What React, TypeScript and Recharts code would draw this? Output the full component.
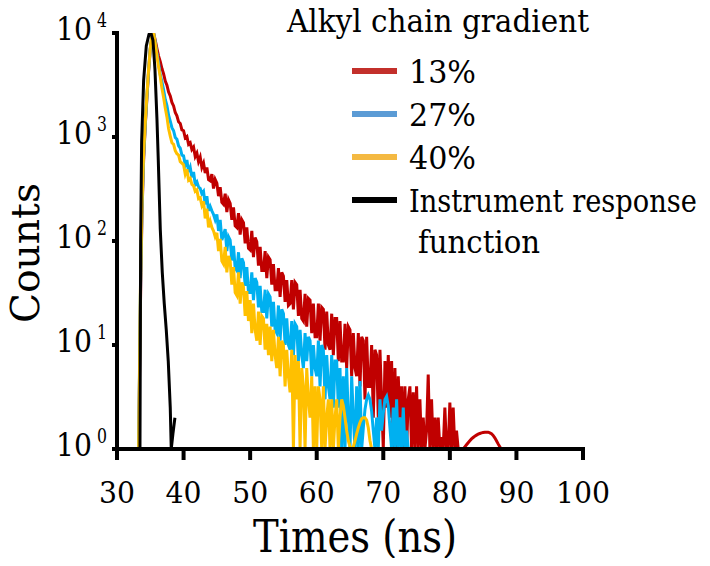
import React from 'react';
import { LineChart, Line, XAxis, YAxis, Legend } from 'recharts';

const txt = { fontFamily: 'DejaVu Serif, serif' };
const fit = { lengthAdjust: 'spacingAndGlyphs' as const };

// histogram bins of the decay traces (ns)
const BIN_START = 33.25;
const BIN_WIDTH = 0.25;

// 13% alkyl chain gradient
const counts13 = [
  1, 20, 180,
  600, 1300, 2400, 4300, // 34
  7000, 9200, 10000, 8500, // 35
  7100, 6000, 5300, 4550, // 36
  4050, 3450, 3150, 2700, // 37
  2480, 2150, 1990, 1720, // 38
  1600, 1400, 1350, 1170, // 39
  1150, 980, 1010, 850, // 40
  880, 760, 800, 650, // 41
  700, 580, 640, 510, // 42
  560, 450, 510, 390, // 43
  380, 440, 320, 390, // 44
  360, 270, 330, 235, // 45
  225, 285, 190, 250, // 46
  230, 160, 210, 140, // 47
  135, 185, 115, 160, // 48
  150, 95, 135, 85, // 49
  82, 125, 70, 108, // 50
  98, 58, 88, 52, // 51
  52, 80, 44, 70, // 52
  66, 38, 60, 34, // 53
  34, 55, 29, 50, // 54
  46, 26, 42, 24, // 55
  25, 42, 22, 40, // 56
  38, 19, 34, 18, // 57
  17, 31, 15, 28, // 58
  27, 13, 25, 12, // 59
  12, 25, 11, 23, // 60
  22, 9, 21, 10, // 61
  9, 20, 8, 18, // 62
  18, 7, 17, 7, // 63
  7, 16, 6, 15, // 64
  14, 5, 13, 6, // 65
  5, 13, 4, 12, // 66
  11, 3, 12, 4, // 67
  4, 10, 2, 9, // 68
  8, 2, 9, 3, // 69
  1, 7, 2.5, 8, // 70
  2, 7, 1, 6, // 71
  1, 5, 2, 4, // 72
  1, 4, 1, 3, // 73
  4, 1, 3.5, 1, // 74
  4, 1, 3, 1, // 75
  2, 1, 1.5, 5.2, // 76
  1, 3, 1, 2, // 77
  1, 2, 1, 1.3, // 78
  1, 2.5, 1, 1, // 79
  2.8, 1, 2.5, 1, // 80
  1.5, 1, 1, 1, // 81
  1, 1.05, 1.1, 1.15, // 82
  1.2, 1.25, 1.29, 1.33, // 83
  1.36, 1.39, 1.41, 1.43, // 84
  1.44, 1.45, 1.45, 1.45, // 85
  1.43, 1.4, 1.35, 1.28, // 86
  1.2, 1.12, 1.05, 1, // 87
];

// 27%
const counts27 = [
  1, 25, 200,
  650, 1350, 2500, 4400, // 34
  7100, 9300, 10000, 8100, // 35
  6300, 5100, 3950, 3400, // 36
  2850, 2300, 2000, 1620, // 37
  1420, 1230, 1150, 990, // 38
  950, 820, 780, 670, // 39
  660, 540, 600, 460, // 40
  510, 410, 460, 350, // 41
  370, 330, 320, 285, // 42
  300, 225, 270, 195, // 43
  215, 195, 180, 160, // 44
  180, 125, 160, 102, // 45
  115, 130, 80, 110, // 46
  102, 65, 90, 55, // 47
  52, 78, 44, 68, // 48
  62, 37, 56, 32, // 49
  32, 50, 27, 44, // 50
  40, 23, 37, 21, // 51
  21, 34, 18, 31, // 52
  29, 15, 26, 14, // 53
  13, 24, 11, 22, // 54
  20, 10, 18, 10, // 55
  9, 17, 8, 16, // 56
  15, 7, 14, 8, // 57
  6, 13, 7, 12, // 58
  11, 5, 10, 6, // 59
  5, 11, 4, 10, // 60
  9, 3, 8, 4, // 61
  3, 8, 2.5, 7, // 62
  7, 2.5, 6, 1, // 63
  5, 1, 6, 2, // 64
  1, 5, 2, 1, // 65
  4, 1, 4.5, 1, // 66
  1.6, 2.4, 3.0, 3.3, // 67
  3.0, 2.3, 1.5, 1, // 68
  2, 1, 3, 1.5, // 69
  2.2, 3.0, 3.2, 2.6, // 70
  1.6, 1, 2.5, 1, // 71
  3, 1, 2, 1, // 72
  2.5, 1, 1.5, 1, // 73
  1, 1, 1, 1, // 74
  1, 1, 1, 1, // 75
  1, 1, 1, 1, // 76
  1, 1, 1, 1, // 77
  1, 1, 1, 1, // 78
  1, 1, 1, 1, // 79
  1, 1, 1, 1, // 80
  1, 1, 1, 1, // 81
  1, 1, 1, 1, // 82
  1, 1, 1, 1, // 83
  1, 1, 1, 1, // 84
  1, 1, 1, 1, // 85
  1, 1, 1, 1, // 86
  1, // 87
];

// 40%
const counts40 = [
  1, 30, 220,
  700, 1400, 2600, 4500, // 34
  7200, 9400, 10000, 7900, // 35
  6000, 4700, 3800, 2950, // 36
  2400, 1900, 1560, 1200, // 37
  1020, 880, 850, 740, // 38
  690, 670, 580, 560, // 39
  540, 440, 490, 385, // 40
  400, 350, 340, 300, // 41
  310, 255, 260, 220, // 42
  240, 165, 205, 135, // 43
  155, 135, 125, 110, // 44
  120, 80, 105, 64, // 45
  60, 88, 50, 72, // 46
  64, 38, 56, 32, // 47
  30, 50, 25, 40, // 48
  36, 19, 33, 17, // 49
  27, 13, 25, 14, // 50
  11, 21, 10, 19, // 51
  18, 9, 16, 8, // 52
  15, 7, 14, 8, // 53
  6, 12, 5, 11, // 54
  10, 4, 9, 5, // 55
  3.5, 9, 1, 8, // 56
  3, 7, 1, 6, // 57
  4, 1, 6, 3, // 58
  2, 5, 1, 4, // 59
  1, 4, 3, 1, // 60
  4, 1, 2, 3, // 61
  1, 3, 1, 2, // 62
  3, 1, 2, 3, // 63
  2.6, 2.0, 1.5, 1.2, // 64
  1.05, 1, 1.05, 1.2, // 65
  1.4, 1.6, 1.8, 1.95, // 66
  2.0, 2.0, 1.9, 1.6, // 67
  1.2, 1, // 68
];

// instrument response function
const irfTimes = [33.45, 33.55, 33.7, 34.0, 34.4, 34.8, 35.1, 35.4, 35.7, 36.0, 36.2, 36.5, 36.8, 37.1, 37.4, 37.7, 38.0, 38.15, 38.4, 38.7];
const irfCounts = [1, 100, 900, 3500, 7500, 9700, 10000, 8500, 4500, 1500, 600, 130, 50, 25, 14, 7, 2.5, 1, 1.4, 2];

const xTicks = [30, 40, 50, 60, 70, 80, 90, 100];
const yTicks = [1, 10, 100, 1000, 10000];

const toBins = (counts: number[]) => counts.map((c, i) => ({ t: BIN_START + i * BIN_WIDTH, c }));

const series = [
  { name: '13%', data: toBins(counts13), color: '#C00000', swatch: '#C3302B', len: 67 },
  { name: '27%', data: toBins(counts27), color: '#00B0F0', swatch: '#5B9BD5', len: 67 },
  { name: '40%', data: toBins(counts40), color: '#FFC000', swatch: '#F4B942', len: 67 },
  { name: 'Instrument response', data: irfTimes.map((t, i) => ({ t, c: irfCounts[i] })), color: '#000000', swatch: '#000000', len: 288 },
];

const XTick = ({ x, y, payload }: any) => {
  const len = String(payload.value).length * 18;
  return (
    <text x={x - len / 2} y={y + 41} fontSize={30} style={txt} fill="#000" textLength={len} {...fit}>
      {payload.value}
    </text>
  );
};

const YTick = ({ x, y, payload }: any) => {
  const exp = Math.round(Math.log10(payload.value));
  return (
    <g>
      <text x={x - 54} y={y + 7} fontSize={32} style={txt} fill="#000" textLength={36} {...fit}>10</text>
      <text x={x - 13} y={y - 6} fontSize={20} style={txt} fill="#000" textLength={10} {...fit}>{exp}</text>
    </g>
  );
};

const renderLegend = () => (
  <svg width={700} height={260} style={{ display: 'block', overflow: 'visible' }}>
    <text x={279} y={24} fontSize={32} style={txt} fill="#000" textLength={302} {...fit}>Alkyl chain gradient</text>
    {series.map((s, i) => (
      <g key={s.name}>
        <line x1={344} x2={389} y1={63 + i * 43} y2={63 + i * 43} stroke={s.swatch} strokeWidth={6} />
        <text x={401} y={74.5 + i * 43} fontSize={31} style={txt} fill="#000" textLength={s.len} {...fit}>{s.name}</text>
      </g>
    ))}
    <text x={410} y={245} fontSize={31} style={txt} fill="#000" textLength={122} {...fit}>function</text>
  </svg>
);

export default function App() {
  return (
    <div style={{ width: 694, height: 550 }}>
      <style>{'.recharts-surface { overflow: visible; }'}</style>
      <LineChart width={702} height={558} margin={{ top: 25, right: 127, left: 9, bottom: 37 }}>
        <XAxis
          dataKey="t"
          type="number"
          domain={[30, 100]}
          ticks={xTicks}
          allowDataOverflow
          height={80}
          tickSize={11}
          tick={<XTick />}
          axisLine={{ stroke: '#000', strokeWidth: 4, strokeLinecap: 'square' }}
          tickLine={{ stroke: '#000', strokeWidth: 4 }}
          label={{
            content: () => (
              <text x={245} y={544} fontSize={44} style={txt} fill="#000" textLength={204} {...fit}>
                Times (ns)
              </text>
            ),
          }}
        />
        <YAxis
          dataKey="c"
          type="number"
          scale="log"
          domain={[1, 10000]}
          ticks={yTicks}
          allowDataOverflow
          width={100}
          tickSize={5}
          tick={<YTick />}
          axisLine={{ stroke: '#000', strokeWidth: 4, strokeLinecap: 'square' }}
          tickLine={{ stroke: '#000', strokeWidth: 4 }}
          label={{
            content: () => (
              <text transform="translate(31,315) rotate(-90)" fontSize={40} style={txt} fill="#000" textLength={140} {...fit}>
                Counts
              </text>
            ),
          }}
        />
        <Legend
          layout="vertical"
          align="center"
          verticalAlign="middle"
          content={renderLegend}
          wrapperStyle={{ position: 'absolute', top: 0, left: 0, width: 700, height: 260, pointerEvents: 'none' }}
        />
        {series.map((s) => (
          <Line
            key={s.name}
            data={s.data}
            dataKey="c"
            name={s.name}
            type="linear"
            stroke={s.color}
            strokeWidth={3}
            dot={false}
            isAnimationActive={false}
          />
        ))}
      </LineChart>
    </div>
  );
}
